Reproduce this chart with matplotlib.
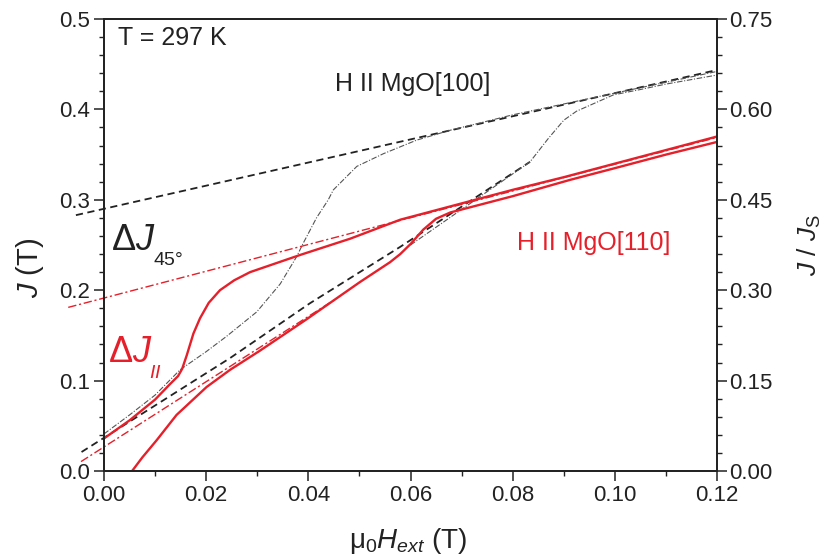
import matplotlib
matplotlib.use("Agg")
import matplotlib.pyplot as plt
from matplotlib.ticker import MultipleLocator, FormatStrFormatter

plt.rcParams['font.family'] = ['Liberation Sans', 'DejaVu Sans']
plt.rcParams['mathtext.fontset'] = 'custom'
plt.rcParams['mathtext.rm'] = 'Liberation Sans'
plt.rcParams['mathtext.it'] = 'Liberation Sans:italic'
plt.rcParams['mathtext.bf'] = 'Liberation Sans:bold'

# ---- data ----
# H || MgO[110], decreasing-field branch (red solid, upper)
H_red_A = [0.0, 0.005, 0.010, 0.0129, 0.0145, 0.0153, 0.0162, 0.0175, 0.0188, 0.0205, 0.0227,
           0.0255, 0.0286, 0.0384, 0.0482, 0.058, 0.07, 0.08, 0.09, 0.10, 0.11, 0.12]
J_red_A = [0.036, 0.056, 0.079, 0.096, 0.105, 0.113, 0.128, 0.152, 0.169, 0.186, 0.200,
           0.211, 0.220, 0.239, 0.257, 0.278, 0.296, 0.311, 0.325, 0.340, 0.355, 0.370]
# H || MgO[110], increasing-field branch (red solid, lower)
H_red_B = [0.0055, 0.0075, 0.0103, 0.0142, 0.0201, 0.0247, 0.0305, 0.0397, 0.0501,
           0.056, 0.058, 0.060, 0.0625, 0.065, 0.0678, 0.08, 0.0912, 0.10, 0.11, 0.12]
J_red_B = [0.0, 0.015, 0.034, 0.062, 0.093, 0.112, 0.133, 0.168, 0.209,
           0.231, 0.240, 0.251, 0.267, 0.279, 0.286, 0.304, 0.322, 0.335, 0.350, 0.364]
# red dash-dot linear fits
H_red_fit_hi = [-0.007, 0.12]
J_red_fit_hi = [0.181, 0.369]
H_red_fit_lo = [-0.0045, 0.045]
J_red_fit_lo = [0.0104, 0.189]

# H || MgO[100] (black / grey)
H_blk_fit_hi = [-0.0055, 0.12]
J_blk_fit_hi = [0.283, 0.4436]
H_blk_fit_lo = [-0.0044, 0.0247, 0.0403, 0.058, 0.0834]
J_blk_fit_lo = [0.021, 0.125, 0.1855, 0.248, 0.342]

H_grey_dec = [0.0, 0.005, 0.010, 0.0149, 0.020, 0.024, 0.0299, 0.0345, 0.0377, 0.039,
              0.0416, 0.0439, 0.0449, 0.0495, 0.0547, 0.0612, 0.0678, 0.0743, 0.08,
              0.09, 0.10, 0.11, 0.12]
J_grey_dec = [0.041, 0.062, 0.084, 0.112, 0.132, 0.149, 0.176, 0.207, 0.237, 0.252,
              0.280, 0.300, 0.311, 0.337, 0.351, 0.366, 0.377, 0.386, 0.394,
              0.406, 0.418, 0.430, 0.442]
H_grey_inc = [0.060, 0.0834, 0.087, 0.090, 0.0925, 0.0945, 0.0997, 0.105, 0.11, 0.115, 0.12]
J_grey_inc = [0.250, 0.342, 0.368, 0.388, 0.398, 0.403, 0.416, 0.422, 0.428, 0.433, 0.438]

# ---- figure ----
RED = '#e5202a'
INK = '#222222'
fig = plt.figure(figsize=(8.27, 5.55), dpi=100)
ax = fig.add_axes([104/827, 1-471/555, (717-104)/827, (471-19)/555])

ax.plot(H_blk_fit_hi, J_blk_fit_hi, color=INK, lw=1.3, ls=(0, (4, 2.5)), clip_on=False)
ax.plot(H_blk_fit_lo, J_blk_fit_lo, color=INK, lw=1.3, ls=(0, (4, 2.5)), clip_on=False)
ax.plot(H_grey_dec, J_grey_dec, color='#555555', lw=0.8, ls=(0, (5, 1.5, 1, 1.5)))
ax.plot(H_grey_inc, J_grey_inc, color='#555555', lw=0.8, ls=(0, (5, 1.5, 1, 1.5)))
ax.plot(H_red_fit_hi, J_red_fit_hi, color=RED, lw=1.0, ls=(0, (6, 2, 1.5, 2)), clip_on=False)
ax.plot(H_red_fit_lo, J_red_fit_lo, color=RED, lw=1.0, ls=(0, (6, 2, 1.5, 2)), clip_on=False)
ax.plot(H_red_A, J_red_A, color=RED, lw=1.7)
ax.plot(H_red_B, J_red_B, color=RED, lw=1.7)

ax.set_xlim(0, 0.12)
ax.set_ylim(0, 0.5)
ax.xaxis.set_major_locator(MultipleLocator(0.02))
ax.xaxis.set_minor_locator(MultipleLocator(0.01))
ax.yaxis.set_major_locator(MultipleLocator(0.1))
ax.yaxis.set_minor_locator(MultipleLocator(0.02))
ax.xaxis.set_major_formatter(FormatStrFormatter('%.2f'))
ax.yaxis.set_major_formatter(FormatStrFormatter('%.1f'))
ax.tick_params(which='major', direction='out', length=7, width=1.1, labelsize=16, pad=3,
               colors=INK)
ax.tick_params(which='minor', direction='out', length=3.8, width=1.0, colors=INK)
ax.tick_params(axis='y', right=False)
for s in ax.spines.values():
    s.set_linewidth(1.3)
    s.set_color(INK)

ax2 = ax.twinx()
ax2.set_ylim(0, 0.75)
ax2.yaxis.set_major_locator(MultipleLocator(0.15))
ax2.yaxis.set_minor_locator(MultipleLocator(0.03))
ax2.yaxis.set_major_formatter(FormatStrFormatter('%.2f'))
ax2.tick_params(which='major', direction='out', length=7, width=1.1, labelsize=16, pad=2,
                colors=INK)
ax2.tick_params(which='minor', direction='out', length=3.8, width=1.0, colors=INK)
for s in ax2.spines.values():
    s.set_linewidth(1.3)
    s.set_color(INK)

ax.set_xlabel(r'$\mathrm{\mu}_0H_{ext}$ (T)', fontsize=20, color=INK)
ax.xaxis.set_label_coords(0.496, -0.122)
ax.set_ylabel(r'$J$ (T)', fontsize=21, color=INK)
ax.yaxis.set_label_coords(-0.095, 0.45)
ax2.set_ylabel(r'$J\ /\ J_{\mathrm{S}}$', fontsize=19, color=INK)
ax2.yaxis.set_label_coords(1.128, 0.5)

ax.text(0.0027, 0.479, 'T = 297 K', fontsize=18, ha='left', va='center', color=INK)
ax.text(0.0605, 0.428, 'H II MgO[100]', fontsize=18, ha='center', va='center', color=INK)
ax.text(0.0959, 0.252, 'H II MgO[110]', fontsize=18, ha='center', va='center', color=RED)
# Delta J labels (main symbol + separate, lowered subscript)
ax.text(0.0013, 0.2445, r'$\Delta J$', fontsize=26, ha='left', va='baseline', color=INK)
ax.text(0.0096, 0.228, r'$\mathit{45°}$', fontsize=14, ha='left', va='baseline', color=INK)
ax.text(0.0007, 0.121, r'$\Delta J$', fontsize=26, ha='left', va='baseline', color=RED)
ax.text(0.0089, 0.103, r'$\mathit{II}$', fontsize=14, ha='left', va='baseline', color=RED)

fig.savefig('out.png', dpi=100)
